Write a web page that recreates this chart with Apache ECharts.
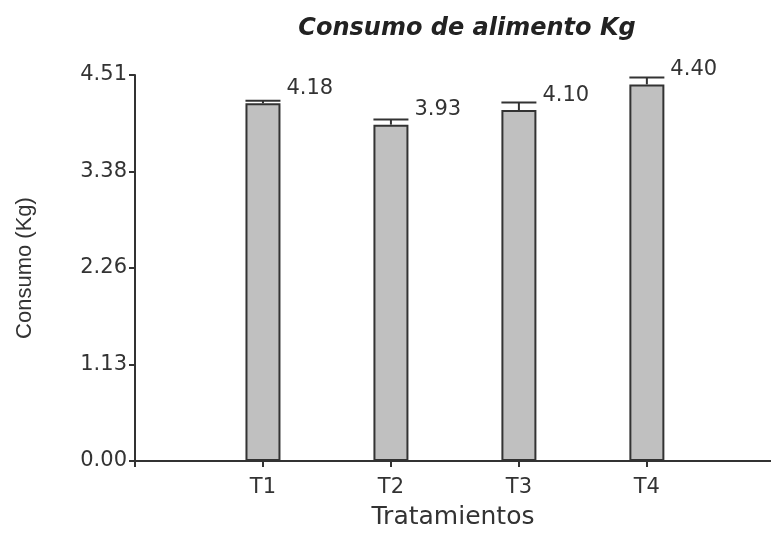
<!DOCTYPE html>
<html>
<head>
<meta charset="utf-8">
<script src="https://cdn.jsdelivr.net/npm/echarts@6/dist/echarts.min.js"></script>
<style>
    html, body { margin: 0; padding: 0; background: #fff; }
    #chart { width: 771px; height: 535px; }
</style>
</head>
<body>
<div id="chart"></div>
<script>
"use strict";
var categories = ['T1', 'T2', 'T3', 'T4'];
var consumo = [4.18, 3.93, 4.10, 4.40];
var errores = [0.03, 0.06, 0.09, 0.08];
var yTicks = [0, 1.13, 2.26, 3.38, 4.51];
var xTicks = [0, 1, 2, 3, 4];

var ink = '#333';
var font = 'DejaVu Sans';

// x va de 0 a ~5, cada tratamiento en su posicion 1..4
var barData = consumo.map(function (v, i) { return [i + 1, v]; });
var errData = consumo.map(function (v, i) { return [i + 1, v, v + errores[i]]; });

var chart = echarts.init(document.getElementById('chart'));
chart.setOption({
    animation: false,
    title: {
        text: 'Consumo de alimento Kg',
        left: 462,
        top: 12,
        textAlign: 'center',
        textStyle: { fontFamily: font, fontSize: 24, fontWeight: 'bold', fontStyle: 'italic', color: '#222' }
    },
    grid: { left: 135, right: 0, top: 75, bottom: 68 },
    xAxis: {
        type: 'value',
        min: 0,
        max: 4.97,
        interval: 1,
        name: 'Tratamientos',
        nameLocation: 'middle',
        nameGap: 44,
        nameTextStyle: { fontFamily: font, fontSize: 25, color: ink },
        axisLine: { lineStyle: { color: ink, width: 2 } },
        axisTick: { length: 6, customValues: xTicks, lineStyle: { color: ink, width: 2 } },
        axisLabel: {
            margin: 16,
            fontFamily: font, fontSize: 21, color: ink,
            customValues: xTicks,
            formatter: function (v) { return categories[v - 1] || ''; }
        },
        splitLine: { show: false }
    },
    yAxis: {
        type: 'value',
        min: 0,
        max: 4.51,
        name: 'Consumo (Kg)',
        nameLocation: 'middle',
        nameGap: 99,
        nameTextStyle: { fontFamily: 'Liberation Sans', fontSize: 22, color: ink },
        axisLine: { show: true, lineStyle: { color: ink, width: 2 } },
        axisTick: { show: true, length: 6, customValues: yTicks, lineStyle: { color: ink, width: 2 } },
        axisLabel: {
            margin: 8,
            fontFamily: font, fontSize: 21, color: ink,
            customValues: yTicks,
            formatter: function (v) { return v.toFixed(2); }
        },
        splitLine: { show: false }
    },
    series: [
        {
            type: 'bar',
            data: barData,
            barWidth: 35,
            itemStyle: { color: '#c0c0c0', borderColor: ink, borderWidth: 2 }
        },
        {
            type: 'custom',
            data: errData,
            encode: { x: 0, y: 1 },
            z: 5,
            renderItem: function (params, api) {
                var x = api.value(0);
                var top = api.coord([x, api.value(1)]);
                var hi = api.coord([x, api.value(2)]);
                var half = 17.5;
                return {
                    type: 'group',
                    children: [
                        { type: 'line', shape: { x1: top[0], y1: top[1], x2: hi[0], y2: hi[1] }, style: { stroke: ink, lineWidth: 2 } },
                        { type: 'line', shape: { x1: hi[0] - half, y1: hi[1], x2: hi[0] + half, y2: hi[1] }, style: { stroke: ink, lineWidth: 2 } },
                        {
                            type: 'text',
                            x: top[0] + half + 6,
                            y: top[1] - 15,
                            style: {
                                text: api.value(1).toFixed(2),
                                fill: ink,
                                font: '21px "DejaVu Sans"',
                                align: 'left',
                                verticalAlign: 'middle'
                            }
                        }
                    ]
                };
            }
        }
    ]
});
</script>
</body>
</html>
